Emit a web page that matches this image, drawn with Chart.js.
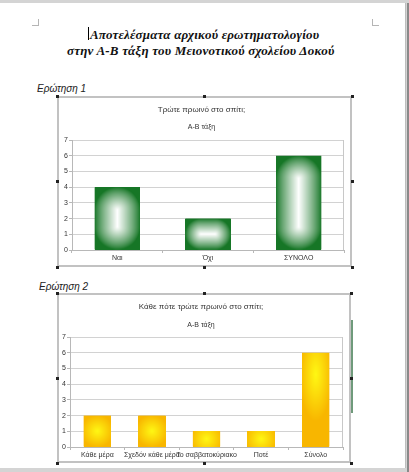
<!DOCTYPE html>
<html>
<head>
<meta charset="utf-8">
<script src="https://cdn.jsdelivr.net/npm/chart.js@4.4.1/dist/chart.umd.min.js"></script>
<style>
  html, body { margin: 0; padding: 0; }
  body { width: 409px; height: 472px; background: #d4d4d4; position: relative; overflow: hidden; font-family: "Liberation Sans", sans-serif; }
  #page { position: absolute; left: 0; top: 3px; width: 405px; height: 465px; background: #fff; border-right: 1px solid #bdbdbd; }
  #edge { position: absolute; left: 407px; top: 3px; width: 2px; height: 469px; background: #8a8a8a; }
  .heading { position: absolute; font-family: "Liberation Serif", serif; font-weight: bold; font-style: italic; font-size: 13px; letter-spacing: 0.2px; color: #111; white-space: nowrap; line-height: 16px; }
  .question { position: absolute; font-style: italic; font-size: 10px; color: #222; white-space: nowrap; }
  .box { position: absolute; border: 2px solid #c2c2c2; box-sizing: border-box; background: #fff; }
  .box canvas { display: block; }
  .handle { position: absolute; width: 3px; height: 3px; background: #222; }
  .mark { position: absolute; border-color: #b5b5b5; border-style: solid; width: 6px; height: 6px; }
</style>
</head>
<body>
<div id="page"></div>
<div id="edge"></div>

<div class="mark" style="left:32px;top:19px;border-width:0 1px 1px 0;"></div>
<div class="mark" style="left:372px;top:19px;border-width:0 0 1px 1px;"></div>
<div style="position:absolute;left:88px;top:27px;width:1px;height:13px;background:#000;"></div>

<div class="heading" style="left:90px;top:27px;">Αποτελέσματα αρχικού ερωτηματολογίου</div>
<div class="heading" style="left:67px;top:43px;">στην Α-Β τάξη του Μειονοτικού σχολείου Δοκού</div>

<div class="question" style="left:37px;top:83px;">Ερώτηση 1</div>
<div class="box" id="box1" style="left:57px;top:96px;width:295px;height:171px;">
  <canvas id="chart1" width="291" height="167"></canvas>
</div>

<div class="question" style="left:39px;top:281px;">Ερώτηση 2</div>
<div class="box" id="box2" style="left:57px;top:293px;width:294px;height:170px;">
  <canvas id="chart2" width="290" height="166"></canvas>
</div>
<div style="position:absolute;left:351px;top:320px;width:2px;height:93px;background:#6f9a7b;"></div>

<script>
// question 1
const q1Title = "Τρώτε πρωινό στο σπίτι;";
const q1Labels = ["Ναι", "Όχι", "ΣΥΝΟΛΟ"];
const q1Values = [4, 2, 6];

// question 2
const q2Title = "Κάθε πότε τρώτε πρωινό στο σπίτι;";
const q2Labels = ["Κάθε μέρα", "Σχεδόν κάθε μέρα", "Το σαββατοκύριακο", "Ποτέ", "Σύνολο"];
const q2Values = [2, 2, 1, 1, 6];

const subTitle = "Α-Β τάξη";
const yMax = 7;

//selection handles round the chart frames
document.querySelectorAll(".box").forEach((box) => {
  const l = box.offsetLeft, t = box.offsetTop, w = box.offsetWidth, h = box.offsetHeight;
  [[0, 0], [0.5, 0], [1, 0], [0, 0.5], [1, 0.5], [0, 1], [0.5, 1], [1, 1]].forEach(([fx, fy]) => {
    const d = document.createElement("div");
    d.className = "handle";
    d.style.left = Math.round(l + fx * w - 1.5) + "px";
    d.style.top = Math.round(t + fy * h - 1.5) + "px";
    document.body.appendChild(d);
  });
});

function mix(a, b, t) {
  return [0, 1, 2].map((k) => Math.round(a[k] + (b[k] - a[k]) * t));
}

//fill a bar rectangle with an office style gradient
function paintBar(ctx, x, y, w, h, style) {
  const dpr = window.devicePixelRatio || 1;
  const W = Math.max(1, Math.round(w * dpr));
  const H = Math.max(1, Math.round(h * dpr));
  const off = document.createElement("canvas");
  off.width = W;
  off.height = H;
  const octx = off.getContext("2d");
  const img = octx.createImageData(W, H);
  const half = Math.min(w, h) / 2;
  for (let j = 0; j < H; j++) {
    for (let i = 0; i < W; i++) {
      const px = ((i + 0.5) / W) * w;
      const py = ((j + 0.5) / H) * h;
      let t;
      if (style.type === "frame") {
        // distance to the centre segment -> rounded contours
        const sx = Math.min(Math.max(px, half), w - half);
        const sy = Math.min(Math.max(py, half), h - half);
        const d = Math.hypot(px - sx, py - sy);
        t = Math.max(0, 1 - d / half);
      } else {
        const gy = Math.min(h / 2, w * 0.8);
        const rx = w * 0.6;
        const ry = Math.max(w * 0.6, h * 0.5);
        const r = Math.hypot((px - w / 2) / rx, (py - gy) / ry);
        t = Math.max(0, 1 - r);
      }
      const c = mix(style.edge, style.center, Math.pow(Math.min(1, t), style.gamma));
      const p = (j * W + i) * 4;
      img.data[p] = c[0];
      img.data[p + 1] = c[1];
      img.data[p + 2] = c[2];
      img.data[p + 3] = 255;
    }
  }
  octx.putImageData(img, 0, 0);
  ctx.drawImage(off, x, y, w, h);
}

const gradientBars = {
  id: "gradientBars",
  beforeDatasetsDraw(chart) {
    //right edge of the plot area
    const ctx = chart.ctx;
    const x = chart.scales.x.right, y = chart.scales.y;
    ctx.save();
    ctx.strokeStyle = "#c8c8c8";
    ctx.lineWidth = 1;
    ctx.beginPath();
    ctx.moveTo(x - 0.5, y.top);
    ctx.lineTo(x - 0.5, y.bottom);
    ctx.stroke();
    ctx.restore();
  },
  afterDatasetsDraw(chart, args, opts) {
    const ctx = chart.ctx;
    chart.data.datasets.forEach((ds, i) => {
      chart.getDatasetMeta(i).data.forEach((bar) => {
        const p = bar.getProps(["x", "y", "base", "width"], true);
        const top = Math.min(p.y, p.base);
        const h = Math.abs(p.base - p.y);
        paintBar(ctx, p.x - p.width / 2, top, p.width, h, opts);
      });
    });
  },
};

function barChart(id, labels, values, title, style, yWidth, gap, subPad, bottomPad) {
  const ctx = document.getElementById(id).getContext("2d");
  return new Chart(ctx, {
    type: "bar",
    data: {
      labels: labels,
      datasets: [
        {
          data: values,
          backgroundColor: "rgb(" + style.edge.join(",") + ")",
          borderWidth: 0,
          barPercentage: 0.5,
          categoryPercentage: 1,
        },
      ],
    },
    plugins: [gradientBars],
    options: {
      responsive: false,
      animation: false,
      layout: { padding: { left: 0, right: 6, top: 0, bottom: bottomPad } },
      plugins: {
        legend: { display: false },
        tooltip: { enabled: false },
        title: {
          display: true,
          text: title,
          color: "#333",
          font: { family: "Liberation Sans", size: 8, weight: "normal" },
          padding: { top: 7.2, bottom: gap / 2 },
        },
        subtitle: {
          display: true,
          text: subTitle,
          color: "#333",
          font: { family: "Liberation Sans", size: 7 },
          padding: { top: gap / 2, bottom: subPad },
        },
        gradientBars: style,
      },
      scales: {
        x: {
          grid: { display: true, drawOnChartArea: false, offset: true, tickLength: 3, color: "#b8b8b8" },
          border: { color: "#b8b8b8" },
          ticks: {
            autoSkip: false,
            maxRotation: 0,
            minRotation: 0,
            padding: 1,
            color: "#333",
            font: { family: "Liberation Sans", size: 7 },
          },
        },
        y: {
          min: 0,
          max: yMax,
          afterFit: (scale) => {
            scale.width = yWidth;
          },
          grid: { color: "#d2d2d2", tickLength: 3, tickColor: "#b8b8b8" },
          border: { color: "#b8b8b8" },
          ticks: {
            stepSize: 1,
            padding: 1,
            color: "#333",
            font: { family: "Liberation Sans", size: 7 },
          },
        },
      },
    },
  });
}

const greenFrame = { type: "frame", edge: [22, 118, 38], center: [255, 255, 255], gamma: 0.85 };
const yellowGlow = { type: "glow", edge: [248, 182, 0], center: [255, 248, 20], gamma: 1 };

barChart("chart1", q1Labels, q1Values, q1Title, greenFrame, 13, 8, 8.8, 1.6);
barChart("chart2", q2Labels, q2Values, q2Title, yellowGlow, 11, 9, 7.8, 0.6);
</script>
</body>
</html>
